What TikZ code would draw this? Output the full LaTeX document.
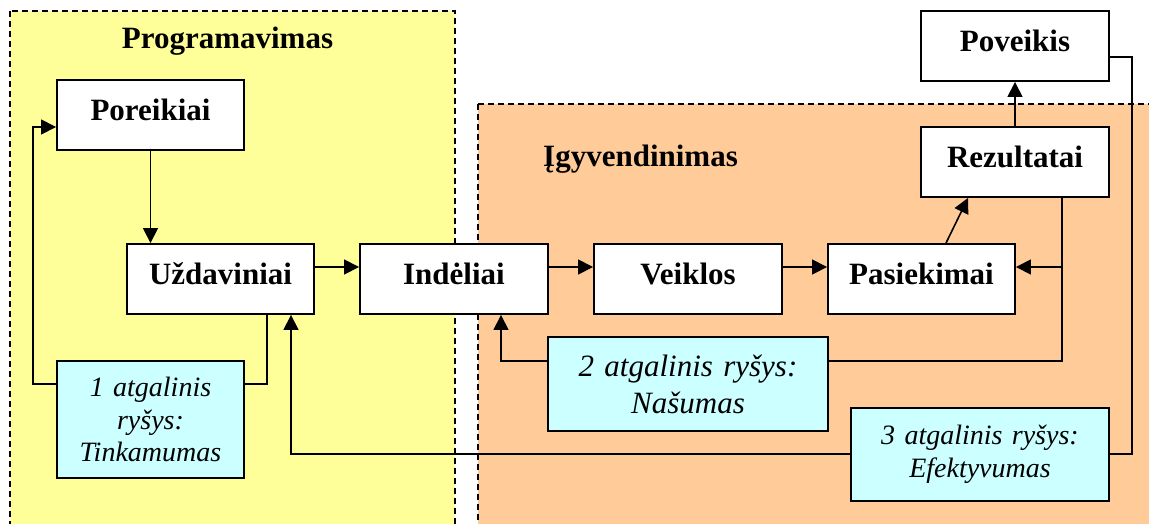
\documentclass[tikz,border=0pt]{standalone}
\usepackage{fontspec}
\setmainfont{Liberation Serif}
\usetikzlibrary{arrows.meta}
\definecolor{yel}{RGB}{255,255,153}
\definecolor{org}{RGB}{255,204,153}
\definecolor{cya}{RGB}{204,255,255}
\begin{document}
\begin{tikzpicture}[x=1pt,y=-1pt,
  region/.style={line width=1.5pt, dash pattern=on 6pt off 4pt},
  box/.style={draw, fill=white, line width=1.9pt, minimum width=187pt, inner sep=0pt,
    text height=40pt, text depth=30pt, font=\bfseries\fontsize{31}{36}\selectfont},
  fb/.style={draw, fill=cya, line width=1.9pt, inner sep=0pt, align=center},
  conn/.style={line width=1.6pt},
  arr/.style={conn, -{Triangle[length=15pt,width=15pt]}},
  title/.style={font=\bfseries\fontsize{31}{36}\selectfont}
]
\useasboundingbox (0,0) rectangle (1149,523);
\fill[white] (0,0) rectangle (1149,523);
\begin{scope}
  \clip (0,0) rectangle (1149,523);
  \filldraw[region, fill=yel] (10,11) rectangle (455,580);
  \filldraw[region, fill=org] (478,104) rectangle (1220,580);
\end{scope}

% titles
\node[title, anchor=base] (tprog) at (227.5,48) {Programavimas};
\node[title, anchor=base west, inner sep=0pt] (tigy) at (543,166) {Įgyvendinimas};

% feedback connector corners
\coordinate (c1a) at (267,384);
\coordinate (c1b) at (33,384);
\coordinate (c1c) at (33,127);
\coordinate (c2a) at (1062,361);
\coordinate (c2b) at (501,361);
\coordinate (c2j) at (1062,267);
\coordinate (c3a) at (1132,57);
\coordinate (c3b) at (1132,454);
\coordinate (c3c) at (291,454);

% main boxes
\node[box] (por) at (150.5,115) {Poreikiai};
\node[box] (uzd) at (220.5,279) {Uždaviniai};
\node[box, minimum width=188pt] (ind) at (454,279) {Indėliai};
\node[box, minimum width=188pt] (vei) at (688,279) {Veiklos};
\node[box] (pas) at (921.5,279) {Pasiekimai};
\node[box, minimum width=188pt] (rez) at (1015,162) {Rezultatai};
\node[box, minimum width=188pt] (pov) at (1015,46) {Poveikis};

% forward arrows
\draw[arr] (por.south) -- (uzd.north -| por.south);
\draw[arr] ([yshift=12pt]uzd.east) -- ([yshift=12pt]ind.west);
\draw[arr] ([yshift=12pt]ind.east) -- ([yshift=12pt]vei.west);
\draw[arr] ([yshift=12pt]vei.east) -- ([yshift=12pt]pas.west);
\draw[arr] ([xshift=24.5pt]pas.north) -- ([xshift=-47pt]rez.south);
\draw[arr] (rez.north) -- (pov.south);

% feedback loops
\draw[arr] ([xshift=46.5pt]uzd.south) -- (c1a) -- (c1b) -- (c1c) -- ([yshift=-12pt]por.west);
\draw[arr] ([xshift=47pt]rez.south) -- (c2a) -- (c2b) -- ([xshift=47pt]ind.south);
\draw[arr] (c2j) -- ([yshift=12pt]pas.east);
\draw[arr] ([yshift=-11pt]pov.east) -- (c3a) -- (c3b) -- (c3c) -- ([xshift=70.5pt]uzd.south);

% feedback boxes
\node[fb, text width=187pt, minimum height=117pt, font=\itshape\fontsize{28}{32.5}\selectfont]
  (fb1) at (150.5,419.5) {1 atgalinis\\ryšys:\\Tinkamumas};
\node[fb, text width=280pt, minimum height=94pt, font=\itshape\fontsize{31}{37}\selectfont]
  (fb2) at (688,384) {2 atgalinis ryšys:\\Našumas};
\node[fb, text width=258pt, minimum height=93pt, font=\itshape\fontsize{28}{33}\selectfont]
  (fb3) at (980,454.5) {3 atgalinis ryšys:\\Efektyvumas};
\end{tikzpicture}
\end{document}
